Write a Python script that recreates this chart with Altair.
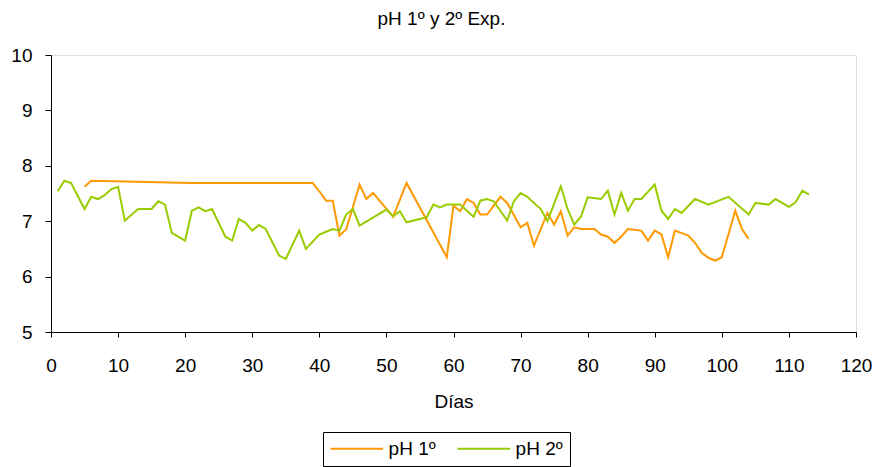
import altair as alt
import pandas as pd

# pH 1º series
dias_1 = [5, 6, 21, 39, 40, 41, 42, 43, 44, 46, 47, 48, 51, 53, 59, 60, 61, 62, 63, 64, 65,
          67, 68, 70, 71, 72, 74, 75, 76, 77, 78, 79, 81, 82, 83, 84, 85, 86, 88, 89, 90,
          91, 92, 93, 95, 96, 97, 98, 99, 100, 102, 103, 104]
ph_1 = [7.62, 7.73, 7.69, 7.69, 7.54, 7.37, 7.37, 6.74, 6.85, 7.66, 7.40, 7.51, 7.08, 7.69,
        6.35, 7.28, 7.18, 7.40, 7.33, 7.12, 7.12, 7.44, 7.33, 6.89, 6.97, 6.56, 7.15, 6.94,
        7.18, 6.74, 6.89, 6.86, 6.86, 6.76, 6.72, 6.61, 6.72, 6.86, 6.83, 6.65, 6.83, 6.76,
        6.35, 6.83, 6.74, 6.61, 6.43, 6.34, 6.29, 6.35, 7.19, 6.86, 6.68]

# pH 2º series
dias_2 = [1, 2, 3, 5, 6, 7, 8, 9, 10, 11, 13, 15, 16, 17, 18, 20, 21, 22, 23, 24, 26, 27,
          28, 29, 30, 31, 32, 34, 35, 37, 38, 40, 41, 42, 43, 44, 45, 46, 50, 51, 52, 53,
          56, 57, 58, 59, 61, 62, 63, 64, 65, 66, 68, 69, 70, 71, 72, 73, 74, 76, 77, 78,
          79, 80, 82, 83, 84, 85, 86, 87, 88, 90, 91, 92, 93, 94, 96, 98, 101, 104, 105,
          107, 108, 110, 111, 112, 113]
ph_2 = [7.54, 7.73, 7.69, 7.22, 7.44, 7.40, 7.47, 7.58, 7.62, 7.01, 7.22, 7.22, 7.36, 7.30,
        6.79, 6.65, 7.19, 7.25, 7.18, 7.22, 6.72, 6.65, 7.04, 6.97, 6.83, 6.93, 6.86, 6.38,
        6.32, 6.83, 6.50, 6.76, 6.81, 6.86, 6.83, 7.12, 7.22, 6.92, 7.21, 7.09, 7.18, 6.98,
        7.07, 7.30, 7.25, 7.30, 7.30, 7.19, 7.08, 7.37, 7.40, 7.36, 7.01, 7.36, 7.51, 7.44,
        7.33, 7.22, 7.00, 7.63, 7.22, 6.94, 7.08, 7.43, 7.40, 7.55, 7.12, 7.51, 7.19, 7.40,
        7.40, 7.66, 7.19, 7.04, 7.22, 7.15, 7.40, 7.30, 7.44, 7.12, 7.33, 7.30, 7.40, 7.26,
        7.34, 7.55, 7.48]

series_names = ["pH 1º", "pH 2º"]
series_colors = ["#FF9900", "#99CC00"]
x_ticks = list(range(0, 121, 10))
y_ticks = [5, 6, 7, 8, 9, 10]

df = pd.concat([
    pd.DataFrame({"Días": dias_1, "pH": ph_1, "Serie": series_names[0], "ord": range(len(dias_1))}),
    pd.DataFrame({"Días": dias_2, "pH": ph_2, "Serie": series_names[1], "ord": range(len(dias_2))}),
])

FONT = "Liberation Sans"
FS = 19

chart = alt.Chart(df).mark_line(strokeWidth=2, clip=True).encode(
    x=alt.X("Días:Q",
            scale=alt.Scale(domain=[0, 120], nice=False, zero=False),
            axis=alt.Axis(values=x_ticks, title="Días", grid=False, domainColor="black",
                          tickColor="black", tickSize=5, labelPadding=19, labelFlush=False,
                          labelFontSize=FS, labelColor="black", labelFont=FONT,
                          titleFont=FONT, titleFontSize=FS, titleFontWeight="normal",
                          titleColor="black", titleBaseline="alphabetic", titleY=75)),
    y=alt.Y("pH:Q",
            scale=alt.Scale(domain=[5, 10], nice=False, zero=False),
            axis=alt.Axis(values=y_ticks, title=None, grid=False, domainColor="black",
                          tickColor="black", tickSize=6, labelPadding=13, labelFlush=False,
                          labelFontSize=FS, labelColor="black", labelFont=FONT)),
    color=alt.Color("Serie:N",
                    scale=alt.Scale(domain=series_names, range=series_colors),
                    legend=alt.Legend(title=None, orient="none", direction="horizontal",
                                      legendX=272, legendY=377, padding=7,
                                      strokeColor="black", fillColor="white",
                                      symbolType="M-1.8,0L8.72,0", symbolSize=100,
                                      symbolStrokeWidth=2, labelFontSize=FS,
                                      labelFont=FONT, labelColor="black",
                                      labelOffset=39.6, columnPadding=17)),
    order="ord:Q",
).properties(
    width=805,
    height=277,
    title=alt.TitleParams("pH 1º y 2º Exp.", font=FONT, fontSize=FS, fontWeight="normal",
                          color="black", anchor="middle", dx=-12, offset=17),
    autosize=alt.AutoSizeParams(type="none"),
    padding={"left": 51, "top": 55, "right": 22, "bottom": 135},
).configure_view(stroke=None).configure(background="white")

chart.save("out.html", embed_options={"renderer": "svg", "actions": False})
